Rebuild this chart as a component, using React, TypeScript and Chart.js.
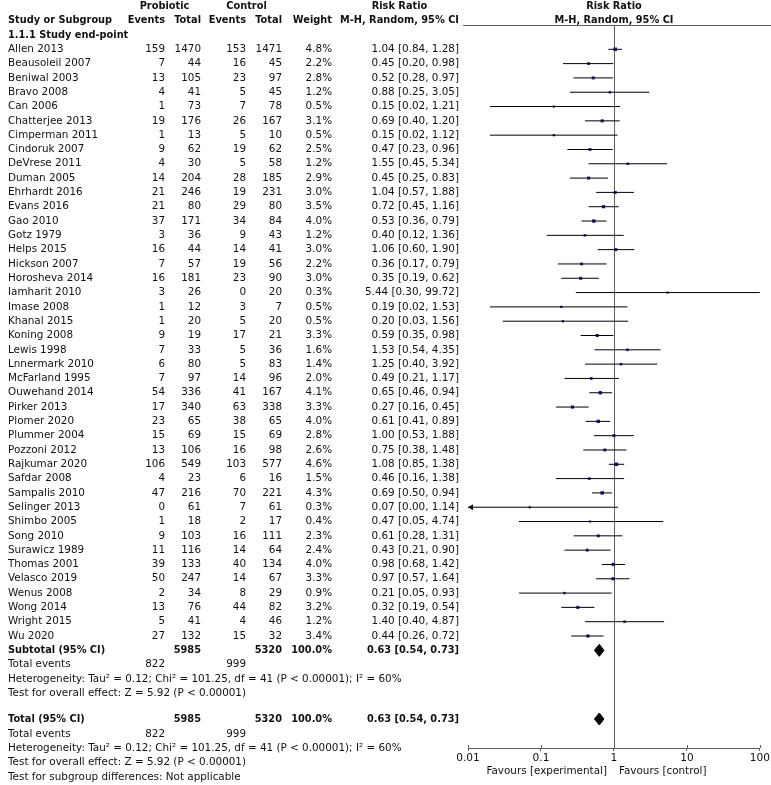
import React, { useEffect, useRef } from 'react';
import { Chart, registerables } from 'chart.js';

Chart.register(...registerables);

// ---------- DATA ----------
const studies = [
  'Allen 2013', 'Beausoleil 2007', 'Beniwal 2003', 'Bravo 2008', 'Can 2006', 'Chatterjee 2013',
  'Cimperman 2011', 'Cindoruk 2007', 'DeVrese 2011', 'Duman 2005', 'Ehrhardt 2016', 'Evans 2016',
  'Gao 2010', 'Gotz 1979', 'Helps 2015', 'Hickson 2007', 'Horosheva 2014', 'Iamharit 2010',
  'Imase 2008', 'Khanal 2015', 'Koning 2008', 'Lewis 1998', 'Lnnermark 2010', 'McFarland 1995',
  'Ouwehand 2014', 'Pirker 2013', 'Plomer 2020', 'Plummer 2004', 'Pozzoni 2012', 'Rajkumar 2020',
  'Safdar 2008', 'Sampalis 2010', 'Selinger 2013', 'Shimbo 2005', 'Song 2010', 'Surawicz 1989',
  'Thomas 2001', 'Velasco 2019', 'Wenus 2008', 'Wong 2014', 'Wright 2015', 'Wu 2020',
];
const probioticEvents = [159, 7, 13, 4, 1, 19, 1, 9, 4, 14, 21, 21, 37, 3, 16, 7, 16, 3, 1, 1, 9, 7, 6, 7, 54, 17, 23, 15, 13, 106, 4, 47, 0, 1, 9, 11, 39, 50, 2, 13, 5, 27];
const probioticTotal = [1470, 44, 105, 41, 73, 176, 13, 62, 30, 204, 246, 80, 171, 36, 44, 57, 181, 26, 12, 20, 19, 33, 80, 97, 336, 340, 65, 69, 106, 549, 23, 216, 61, 18, 103, 116, 133, 247, 34, 76, 41, 132];
const controlEvents = [153, 16, 23, 5, 7, 26, 5, 19, 5, 28, 19, 29, 34, 9, 14, 19, 23, 0, 3, 5, 17, 5, 5, 14, 41, 63, 38, 15, 16, 103, 6, 70, 7, 2, 16, 14, 40, 14, 8, 44, 4, 15];
const controlTotal = [1471, 45, 97, 45, 78, 167, 10, 62, 58, 185, 231, 80, 84, 43, 41, 56, 90, 20, 7, 20, 21, 36, 83, 96, 167, 338, 65, 69, 98, 577, 16, 221, 61, 17, 111, 64, 134, 67, 29, 82, 46, 32];
const weights = [4.8, 2.2, 2.8, 1.2, 0.5, 3.1, 0.5, 2.5, 1.2, 2.9, 3.0, 3.5, 4.0, 1.2, 3.0, 2.2, 3.0, 0.3, 0.5, 0.5, 3.3, 1.6, 1.4, 2.0, 4.1, 3.3, 4.0, 2.8, 2.6, 4.6, 1.5, 4.3, 0.3, 0.4, 2.3, 2.4, 4.0, 3.3, 0.9, 3.2, 1.2, 3.4];
const riskRatio = [1.04, 0.45, 0.52, 0.88, 0.15, 0.69, 0.15, 0.47, 1.55, 0.45, 1.04, 0.72, 0.53, 0.40, 1.06, 0.36, 0.35, 5.44, 0.19, 0.20, 0.59, 1.53, 1.25, 0.49, 0.65, 0.27, 0.61, 1.00, 0.75, 1.08, 0.46, 0.69, 0.07, 0.47, 0.61, 0.43, 0.98, 0.97, 0.21, 0.32, 1.40, 0.44];
const ciLower = [0.84, 0.20, 0.28, 0.25, 0.02, 0.40, 0.02, 0.23, 0.45, 0.25, 0.57, 0.45, 0.36, 0.12, 0.60, 0.17, 0.19, 0.30, 0.02, 0.03, 0.35, 0.54, 0.40, 0.21, 0.46, 0.16, 0.41, 0.53, 0.38, 0.85, 0.16, 0.50, 0.00, 0.05, 0.28, 0.21, 0.68, 0.57, 0.05, 0.19, 0.40, 0.26];
const ciUpper = [1.28, 0.98, 0.97, 3.05, 1.21, 1.20, 1.12, 0.96, 5.34, 0.83, 1.88, 1.16, 0.79, 1.36, 1.90, 0.79, 0.62, 99.72, 1.53, 1.56, 0.98, 4.35, 3.92, 1.17, 0.94, 0.45, 0.89, 1.88, 1.48, 1.38, 1.38, 0.94, 1.14, 4.74, 1.31, 0.90, 1.42, 1.64, 0.93, 0.54, 4.87, 0.72];

// pooled result: [estimate, lower, upper]
const pooledRR = [0.63, 0.54, 0.73];
const pooledTotals = [5985, 5320];
const pooledEvents = [822, 999];
const pooledWeight = '100.0%';
const heterogeneityText = 'Heterogeneity: Tau² = 0.12; Chi² = 101.25, df = 41 (P < 0.00001); I² = 60%';
const overallEffectText = 'Test for overall effect: Z = 5.92 (P < 0.00001)';
const subgroupText = 'Test for subgroup differences: Not applicable';

const axisTicks = [0.01, 0.1, 1, 10, 100];

// ---------- LAYOUT ----------
const W = 771;
const H = 785;
const FONT = '"DejaVu Sans", Verdana, sans-serif';
const FS = 10.4;
const FSB = 9.8;
const ROW0 = 49.3;
const ROW_H = 14.31;
const AREA_TOP = 25;
const AREA_BOTTOM = 748;
const AREA_LEFT = 468;
const AREA_RIGHT = 761;
const X_MIN = 0.01;
const X_MAX = 100;
const DIAMOND_HALF = 0.42; // in row units

// columns (right-aligned x)
const COL_NAME = 8;
const COL_PE = 165;
const COL_PT = 201;
const COL_CE = 246;
const COL_CT = 282;
const COL_W = 332;
const COL_RR = 459;

// summary rows
const ROW_SUB = 42;
const ROW_SUB_EV = 43;
const ROW_SUB_HET = 44;
const ROW_SUB_Z = 45;
const ROW_TOT = 46.8;
const ROW_TOT_EV = 47.85;
const ROW_TOT_HET = 48.85;
const ROW_TOT_Z = 49.85;
const ROW_SUBGRP = 50.85;

const yMin = (AREA_TOP - ROW0) / ROW_H;
const yMax = (AREA_BOTTOM - ROW0) / ROW_H;

const fmtCI = (e: number, l: number, u: number) => `${e.toFixed(2)} [${l.toFixed(2)}, ${u.toFixed(2)}]`;

const tablePlugin = {
  id: 'forestTable',
  beforeDatasetsDraw(chart: any) {
    const { ctx, chartArea, scales } = chart;
    const x = scales.x;
    ctx.save();
    ctx.strokeStyle = '#5e5e5e';
    ctx.lineWidth = 1;
    // header rule across plot column
    ctx.beginPath();
    ctx.moveTo(463, Math.round(chartArea.top) + 0.5);
    ctx.lineTo(W, Math.round(chartArea.top) + 0.5);
    ctx.stroke();
    // line of no effect
    const x1 = Math.round(x.getPixelForValue(1)) + 0.5;
    ctx.beginPath();
    ctx.moveTo(x1, chartArea.top);
    ctx.lineTo(x1, chartArea.bottom);
    ctx.stroke();
    ctx.restore();
  },
  afterDraw(chart: any) {
    const { ctx, chartArea, scales } = chart;
    const x = scales.x;
    const y = scales.y;
    const py = (r: number) => y.getPixelForValue(r);
    ctx.save();
    ctx.fillStyle = '#111';
    ctx.textBaseline = 'middle';
    const txt = (s: string, px: number, row: number, align: CanvasTextAlign = 'right', bold = false) => {
      ctx.font = `${bold ? 'bold ' : ''}${bold ? FSB : FS}px ${FONT}`;
      ctx.textAlign = align;
      ctx.fillText(s, px, py(row));
    };
    // headers
    txt('Probiotic', (128 + COL_PT) / 2, -3, 'center', true);
    txt('Control', (211 + COL_CT) / 2, -3, 'center', true);
    txt('Risk Ratio', (340 + COL_RR) / 2, -3, 'center', true);
    const x1 = x.getPixelForValue(1);
    txt('Risk Ratio', x1, -3, 'center', true);
    txt('Study or Subgroup', COL_NAME, -2, 'left', true);
    txt('Events', COL_PE, -2, 'right', true);
    txt('Total', COL_PT, -2, 'right', true);
    txt('Events', COL_CE, -2, 'right', true);
    txt('Total', COL_CT, -2, 'right', true);
    txt('Weight', COL_W, -2, 'right', true);
    txt('M-H, Random, 95% CI', COL_RR, -2, 'right', true);
    txt('M-H, Random, 95% CI', x1, -2, 'center', true);
    txt('1.1.1 Study end-point', COL_NAME, -1, 'left', true);

    studies.forEach((s, i) => {
      txt(s, COL_NAME, i, 'left');
      txt(String(probioticEvents[i]), COL_PE, i);
      txt(String(probioticTotal[i]), COL_PT, i);
      txt(String(controlEvents[i]), COL_CE, i);
      txt(String(controlTotal[i]), COL_CT, i);
      txt(weights[i].toFixed(1) + '%', COL_W, i);
      txt(fmtCI(riskRatio[i], ciLower[i], ciUpper[i]), COL_RR, i);
    });

    const summary = (label: string, row: number) => {
      txt(label, COL_NAME, row, 'left', true);
      txt(String(pooledTotals[0]), COL_PT, row, 'right', true);
      txt(String(pooledTotals[1]), COL_CT, row, 'right', true);
      txt(pooledWeight, COL_W, row, 'right', true);
      txt(fmtCI(pooledRR[0], pooledRR[1], pooledRR[2]), COL_RR, row, 'right', true);
    };
    const block = (evRow: number, hetRow: number, zRow: number) => {
      txt('Total events', COL_NAME, evRow, 'left');
      txt(String(pooledEvents[0]), COL_PE, evRow);
      txt(String(pooledEvents[1]), COL_CE, evRow);
      txt(heterogeneityText, COL_NAME, hetRow, 'left');
      txt(overallEffectText, COL_NAME, zRow, 'left');
    };
    summary('Subtotal (95% CI)', ROW_SUB);
    block(ROW_SUB_EV, ROW_SUB_HET, ROW_SUB_Z);
    summary('Total (95% CI)', ROW_TOT);
    block(ROW_TOT_EV, ROW_TOT_HET, ROW_TOT_Z);
    txt(subgroupText, COL_NAME, ROW_SUBGRP, 'left');

    // upward half of axis tick marks
    ctx.strokeStyle = '#5e5e5e';
    ctx.lineWidth = 1;
    axisTicks.forEach((t) => {
      const tx = Math.round(x.getPixelForValue(t)) + 0.5;
      ctx.beginPath();
      ctx.moveTo(tx, chartArea.bottom - 3);
      ctx.lineTo(tx, chartArea.bottom);
      ctx.stroke();
    });

    // arrows for CIs running past the axis limits
    ctx.fillStyle = '#111';
    studies.forEach((_, i) => {
      const yy = py(i);
      if (ciLower[i] < X_MIN) {
        const ax = x.getPixelForValue(X_MIN);
        ctx.beginPath();
        ctx.moveTo(ax, yy);
        ctx.lineTo(ax + 5, yy - 3);
        ctx.lineTo(ax + 5, yy + 3);
        ctx.closePath();
        ctx.fill();
      }
      if (ciUpper[i] > X_MAX) {
        const ax = x.getPixelForValue(X_MAX);
        ctx.beginPath();
        ctx.moveTo(ax, yy);
        ctx.lineTo(ax - 5, yy - 3);
        ctx.lineTo(ax - 5, yy + 3);
        ctx.closePath();
        ctx.fill();
      }
    });

    // favours labels
    ctx.fillStyle = '#111';
    ctx.font = `${FS}px ${FONT}`;
    ctx.textBaseline = 'middle';
    ctx.textAlign = 'right';
    ctx.fillText('Favours [experimental]', x1 - 7, chartArea.bottom + 23);
    ctx.textAlign = 'left';
    ctx.fillText('Favours [control]', x1 + 5, chartArea.bottom + 23);
    ctx.restore();
  },
};

export default function App() {
  const ref = useRef<HTMLCanvasElement | null>(null);

  useEffect(() => {
    if (!ref.current) return;

    const ciData: { x: number; y: number }[] = [];
    studies.forEach((_, i) => {
      ciData.push({ x: Math.max(ciLower[i], X_MIN), y: i });
      ciData.push({ x: Math.min(ciUpper[i], X_MAX), y: i });
      ciData.push({ x: NaN, y: NaN });
    });
    const pointData = studies.map((_, i) => ({ x: riskRatio[i], y: i }));
    const diamond = (row: number) => [
      { x: pooledRR[1], y: row },
      { x: pooledRR[0], y: row - DIAMOND_HALF },
      { x: pooledRR[2], y: row },
      { x: pooledRR[0], y: row + DIAMOND_HALF },
      { x: pooledRR[1], y: row },
    ];

    const chart = new Chart(ref.current, {
      type: 'scatter',
      data: {
        datasets: [
          {
            label: 'CI',
            data: ciData,
            showLine: true,
            spanGaps: false,
            borderColor: '#000',
            borderWidth: 1,
            pointRadius: 0,
            fill: false,
          } as any,
          {
            label: 'Risk ratio',
            data: pointData,
            pointStyle: 'rect',
            pointRadius: weights.map((w) => 1.5 + 0.22 * w),
            backgroundColor: '#1b1b8a',
            borderWidth: 0,
          } as any,
          {
            label: 'Subtotal',
            data: diamond(ROW_SUB),
            showLine: true,
            borderColor: '#000',
            borderWidth: 1,
            backgroundColor: '#000',
            fill: 'shape',
            pointRadius: 0,
            tension: 0,
          } as any,
          {
            label: 'Total',
            data: diamond(ROW_TOT),
            showLine: true,
            borderColor: '#000',
            borderWidth: 1,
            backgroundColor: '#000',
            fill: 'shape',
            pointRadius: 0,
            tension: 0,
          } as any,
        ],
      },
      options: {
        responsive: false,
        maintainAspectRatio: false,
        animation: false,
        events: [],
        layout: { padding: { left: AREA_LEFT, right: W - AREA_RIGHT, top: AREA_TOP, bottom: 0 } },
        plugins: { legend: { display: false }, tooltip: { enabled: false } },
        scales: {
          x: {
            type: 'logarithmic',
            min: X_MIN,
            max: X_MAX,
            position: 'bottom',
            afterBuildTicks: (s: any) => {
              s.ticks = axisTicks.map((v) => ({ value: v }));
            },
            afterFit: (s: any) => {
              s.height = H - AREA_BOTTOM;
            },
            ticks: {
              autoSkip: false,
              maxRotation: 0,
              padding: 1,
              color: '#111',
              font: { family: FONT, size: 10.6 },
              callback: (v: any) => String(Number(v)),
            },
            grid: { drawOnChartArea: false, drawTicks: true, tickLength: 3, color: '#5e5e5e' },
            border: { display: true, color: '#5e5e5e', width: 1 },
          },
          y: {
            type: 'linear',
            display: false,
            reverse: true,
            min: yMin,
            max: yMax,
          },
        },
      },
      plugins: [tablePlugin],
    });
    return () => chart.destroy();
  }, []);

  return (
    <div style={{ position: 'absolute', left: 0, top: 0, width: W, height: H, background: '#fff' }}>
      <canvas ref={ref} width={W} height={H} style={{ width: W, height: H, display: 'block' }} />
    </div>
  );
}
